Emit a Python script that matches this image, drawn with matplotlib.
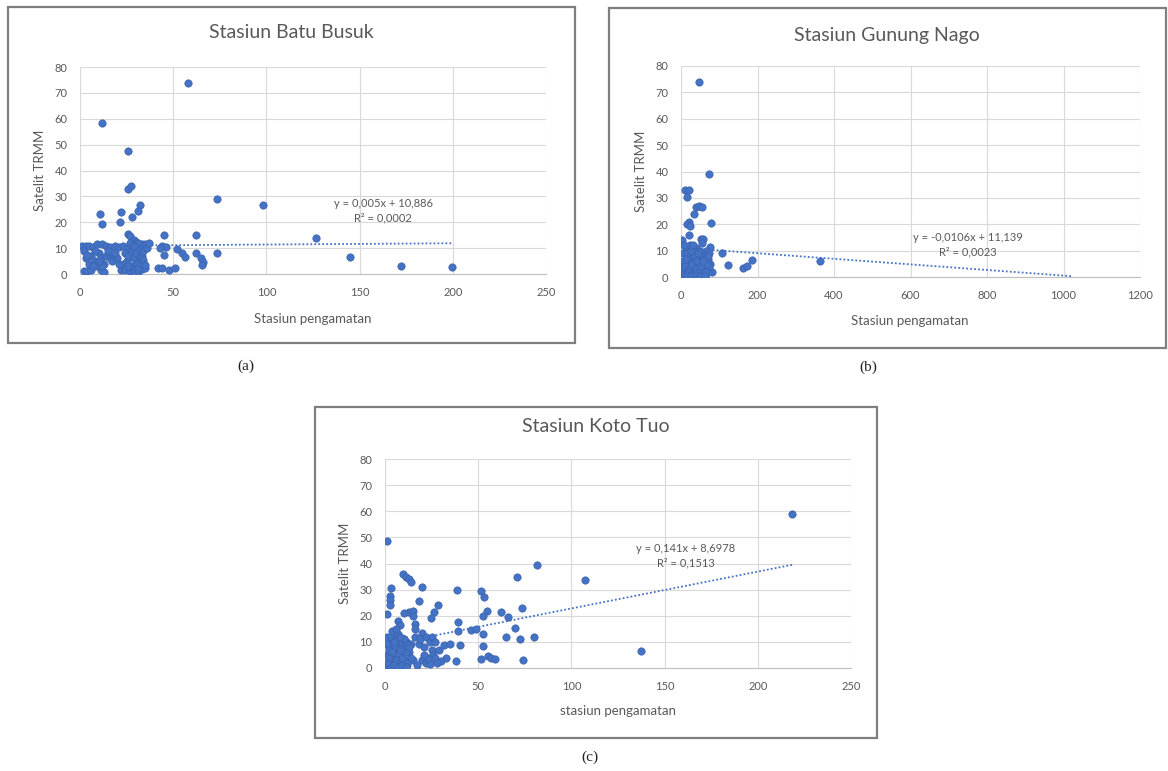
import matplotlib
matplotlib.use("Agg")
import matplotlib.pyplot as plt
from matplotlib.patches import Rectangle
import numpy as np

plt.rcParams['font.family'] = ['Lato', 'DejaVu Sans']

# ---- data ----
# Stasiun Batu Busuk
a_x = [58, 12, 25.5, 26, 27.5, 32, 31, 28, 10.5, 12, 22, 21.5, 73.5, 98, 126.5, 145, 172, 199.5,
       45, 62, 25.5, 27, 29, 30, 44, 46, 43, 52, 54.5, 56.5, 62, 65, 66, 65.5, 73.5, 42, 44, 48, 51, 45,
       1, 3, 5, 7, 9, 12, 14, 16, 19, 21, 23, 26, 30, 33, 35,
       2, 4, 6, 11, 13, 22, 24, 27, 29, 31, 33, 35,
       3, 5, 6, 8, 9, 10, 11, 13, 14, 16, 17, 18, 20, 24, 25, 26, 28, 28, 29, 30, 30, 31, 32, 32,
       33, 33, 34, 34, 35, 36, 2, 4, 7, 8, 12, 15, 23, 27, 31, 26, 29, 19, 21, 10, 37]
a_y = [74, 58.5, 47.5, 33, 34, 26.5, 24.5, 22, 23, 19.5, 24, 20, 29, 26.5, 14, 6.5, 3.2, 2.8,
       15, 15, 15.5, 14.5, 13, 12.5, 11, 10.5, 10, 9.5, 8, 6.5, 8, 6, 4.5, 3.3, 8, 2.2, 2.5, 1.5, 2.2, 7.5,
       11, 11, 11, 10.5, 11.5, 11.5, 11, 10.5, 11, 10.5, 11, 10, 10.5, 11.5, 11.5,
       1, 1, 1.5, 1.5, 0.8, 1.5, 1.5, 1, 1.5, 0.8, 2, 2.5,
       6, 4, 7, 5, 3, 8, 6, 4, 7, 6, 5, 7.5, 6, 8, 5, 7, 3, 9, 6, 4, 8, 2.5, 6, 9.5,
       4, 7, 5.5, 9, 3.5, 10, 9, 7.5, 3, 9, 3, 9, 4, 12, 12, 3, 11, 8, 4, 5, 12]

# Stasiun Gunung Nago
b_x = [46, 74, 11, 22, 16, 40, 48, 55, 35, 20, 16, 24, 78, 3, 22, 52, 58, 55, 76, 107, 122, 163,
       172, 185, 364,
       5, 8, 10, 12, 14, 15, 18, 20, 22, 25, 27, 30, 32, 35, 38, 40, 42, 45, 48, 50, 53, 56, 60,
       63, 66, 70, 72, 75, 80, 6, 9, 13, 17, 19, 23, 26, 28, 31, 34, 37, 41, 44, 47, 51, 54, 57,
       61, 65, 68, 71, 74, 4, 7, 11, 16, 21, 24, 29, 33, 36, 39, 43, 46, 49, 52, 59, 62, 67, 73,
       8, 12, 18, 27, 32, 44, 58, 64, 70, 10, 15, 25, 38, 50, 62]
b_y = [74, 39, 33, 33, 30.5, 26.5, 27, 26.5, 24, 21, 20, 19.5, 20.5, 14, 16, 14.5, 14.5, 13, 11.5,
       9, 4.7, 3.4, 4, 6.5, 6,
       1, 3, 6, 2, 8, 4, 10, 5, 1, 7, 3, 9, 2, 6, 4, 11, 1, 5, 8, 3, 6, 2, 9,
       4, 1, 7, 3, 5, 2, 9, 5, 11, 2, 7, 4, 1, 8, 6, 3, 10, 2, 7, 4, 1, 5, 8,
       3, 10, 6, 2, 4, 6, 1, 4, 9, 3, 12, 5, 1, 8, 3, 6, 2, 10, 4, 1, 7, 5, 9,
       12, 7, 2, 10, 12, 9, 6, 2, 8, 0.5, 0.8, 0.5, 0.8, 0.5, 0.5]

# Stasiun Koto Tuo
c_x = [1, 218.5, 81.5, 107.5, 71, 73.5, 137.5, 65, 72.5, 80, 69.5, 74, 62, 66, 54.5, 52.5, 51.5,
       53, 52.5, 52.5, 51.5, 55, 57, 59, 46, 49, 38.7, 39, 39, 38, 31.5, 35, 40.5, 28.5, 26.5,
       24.5, 19.8, 18.5, 9.5, 11.5, 13, 14, 3, 2.6, 2.6, 2.6, 1.2, 13, 15, 10, 7, 8, 15, 16, 16,
       20, 22, 24, 25, 26, 27, 30, 32.5, 20, 22, 24,
       1, 2, 3, 4, 5, 6, 7, 8, 9, 10, 11, 12, 13, 14, 15, 1, 2, 3, 4, 5, 6, 7, 8, 9, 10, 11, 12,
       1, 2, 3, 4, 5, 6, 7, 8, 9, 10, 11, 12, 14, 2, 3, 4, 5, 6, 7, 8, 9, 10, 12, 13, 16, 18,
       19, 21, 23, 25, 27, 29, 17, 21, 28, 0.5, 1, 3, 5, 7, 9, 11, 4, 6, 8]
c_y = [48.5, 59, 39.4, 33.7, 35, 23, 6.6, 12, 11, 11.8, 15.5, 2.9, 21.5, 19.5, 22, 20, 29.5, 27,
       13, 8.5, 3.5, 4.5, 4, 3.5, 14.5, 15, 29.8, 17.5, 14, 2.5, 8.9, 9, 8.9, 24, 21.5, 19, 31,
       25.5, 36, 35, 34, 33, 30.5, 27.5, 26, 24, 20.5, 21.5, 22, 21, 18, 16.5, 20, 17, 15,
       13.5, 12, 10, 7, 5, 4, 2.5, 4, 3, 2, 1.5,
       5, 8, 3, 11, 6, 2, 9, 12, 4, 7, 10, 1, 6, 9, 3, 12, 2, 7, 10, 4, 13, 5, 1, 8, 11, 3, 6,
       9, 4, 12, 1, 8, 11, 5, 3, 10, 2, 6, 9, 4, 7, 1, 6, 10, 3, 13, 7, 4, 11, 2, 8, 12, 9,
       11, 8, 4, 12, 10, 7, 1, 5, 2, 1, 2, 0.5, 1, 0.5, 1, 0.5, 14, 15, 12]

# trendline coefficients and extent, equation text
slopes = [0.005, -0.0106, 0.141]
intercepts = [10.886, 11.139, 8.6978]
trend_end = [199.5, 1020, 218.5]
eq_text = ["y = 0,005x + 10,886\nR² = 0,0002",
           "y = -0,0106x + 11,139\nR² = 0,0023",
           "y = 0,141x + 8,6978\nR² = 0,1513"]
titles = ["Stasiun Batu Busuk", "Stasiun Gunung Nago", "Stasiun Koto Tuo"]
xlabels = ["Stasiun pengamatan", "Stasiun pengamatan", "stasiun pengamatan"]
xmax = [250, 1200, 250]
xstep = [50, 200, 50]
captions = ["(a)", "(b)", "(c)"]

# ---- layout in pixels ----
W, H = 1168, 771
fig = plt.figure(figsize=(W / 100, H / 100), dpi=100)


def fx(p):
    return p / W


def fy(p):
    return 1 - p / H


frames = [(8, 7, 575, 343), (609, 8, 1166, 348), (315, 407, 877, 738)]
axbox = [(80, 67, 546, 274), (681, 66, 1140, 277), (385, 459, 851, 668)]
title_pos = [(291, 33), (887, 35), (596, 426)]
xlab_pos = [(313, 319), (910, 321), (618, 711)]
ylab_pos = [(40, 170), (641, 171), (345, 563)]
eq_pos = [(383, 211), (968, 245), (686, 556)]
cap_pos = [(246, 366), (868, 367), (590, 757)]

data = [(a_x, a_y), (b_x, b_y), (c_x, c_y)]
grey = '#595959'
blue = '#4472C4'

for i in range(3):
    l, t, r, b = frames[i]
    fig.patches.append(Rectangle((fx(l), fy(b)), (r - l) / W, (b - t) / H,
                                 transform=fig.transFigure, fill=False,
                                 edgecolor='#7f7f7f', lw=1.6))
    l, t, r, b = axbox[i]
    ax = fig.add_axes([fx(l), fy(b), (r - l) / W, (b - t) / H])
    x, y = data[i]
    ax.scatter(x, y, s=28, color=blue, edgecolors='#3b62ad', linewidths=0.5, zorder=3)
    tx = np.array([0, trend_end[i]])
    ax.plot(tx, slopes[i] * tx + intercepts[i], color=blue, lw=1.3,
            linestyle=(0, (1, 1.2)), zorder=2)
    ax.set_xlim(0, xmax[i])
    ax.set_ylim(0, 80)
    ax.set_xticks(np.arange(0, xmax[i] + 1, xstep[i]))
    ax.set_yticks(np.arange(0, 81, 10))
    ax.grid(True, color='#d9d9d9', lw=0.8)
    ax.set_axisbelow(True)
    for s in ax.spines.values():
        s.set_visible(False)
    ax.spines['bottom'].set_visible(True)
    ax.spines['bottom'].set_color('#bfbfbf')
    ax.tick_params(axis='x', length=0, pad=9.5, labelsize=8, labelcolor=grey)
    ax.tick_params(axis='y', length=0, pad=9, labelsize=8, labelcolor=grey)
    for lab in ax.get_xticklabels() + ax.get_yticklabels():
        lab.set_clip_on(False)

    fig.text(fx(title_pos[i][0]), fy(title_pos[i][1]), titles[i], ha='center', va='center',
             fontsize=14, color=grey)
    fig.text(fx(xlab_pos[i][0]), fy(xlab_pos[i][1]), xlabels[i], ha='center', va='center',
             fontsize=9.5, color=grey)
    fig.text(fx(ylab_pos[i][0]), fy(ylab_pos[i][1]), "Satelit TRMM", ha='center', va='center',
             rotation=90, fontsize=9.5, color=grey)
    fig.text(fx(eq_pos[i][0]), fy(eq_pos[i][1]), eq_text[i], ha='center', va='center',
             fontsize=8, color=grey, linespacing=1.35)
    fig.text(fx(cap_pos[i][0]), fy(cap_pos[i][1]), captions[i], ha='center', va='center',
             fontsize=11, color='#222222', family='Liberation Serif')

fig.savefig('out.png', dpi=100)
